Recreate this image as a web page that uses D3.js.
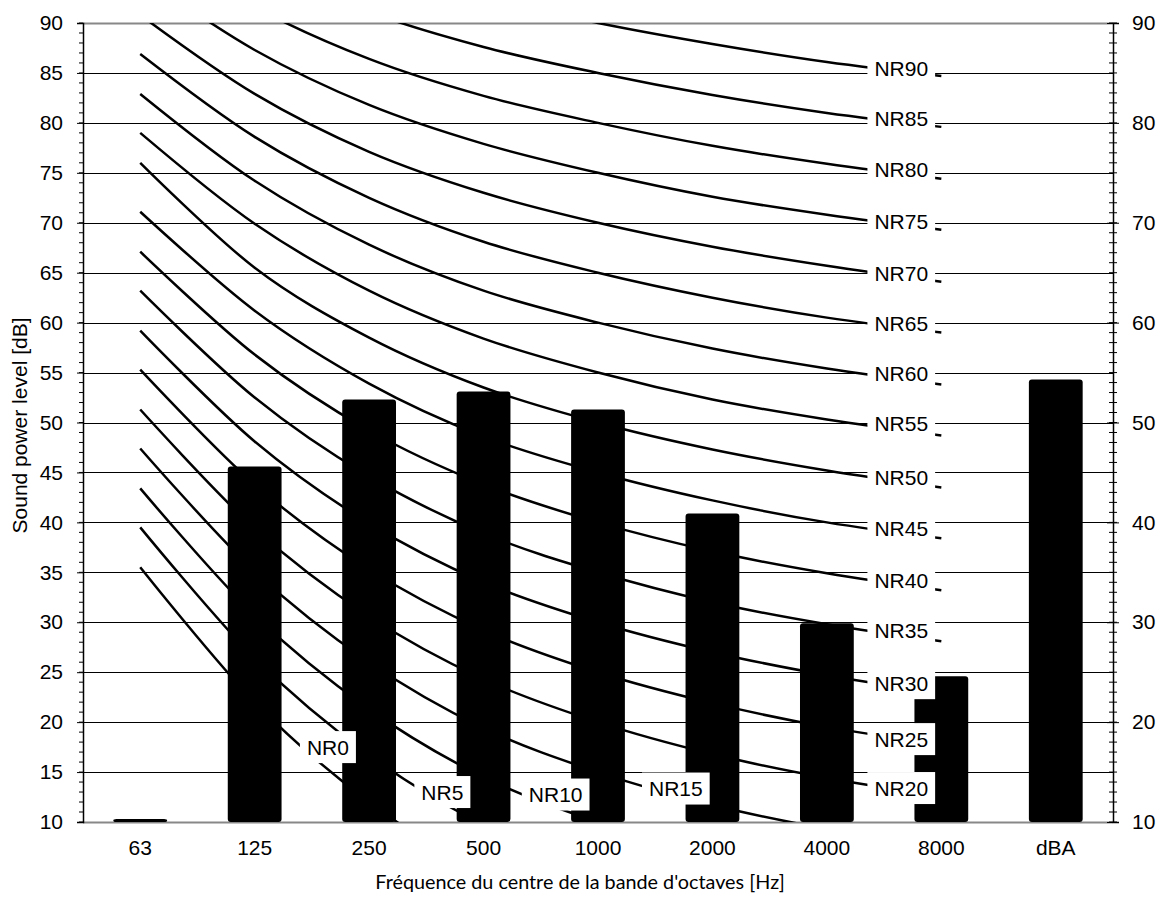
<!DOCTYPE html>
<html>
<head>
<meta charset="utf-8">
<script src="https://cdn.jsdelivr.net/npm/d3@7"></script>
<style>
  body { margin: 0; background: #fff; }
  svg { display: block; }
  text { font-family: "Liberation Sans", Arial, sans-serif; fill: #000; }
</style>
</head>
<body>
<svg id="chart" width="1161" height="918"></svg>
<script>
// octave bands on the x axis (last one is the overall dBA bar)
var bands = ["63", "125", "250", "500", "1000", "2000", "4000", "8000", "dBA"];
var curveBands = ["63", "125", "250", "500", "1000", "2000", "4000", "8000"];

// measured sound power level per band
var levels = [10.3, 45.6, 52.3, 53.1, 51.3, 40.9, 29.9, 24.6, 54.3];

// NR curves, values at 63 ... 8000 Hz
var nr0  = [35.5, 22.0, 12.0,  4.8,  0.0, -3.5, -6.1, -8.0];
var nr5  = [39.5, 26.4, 16.7,  9.7,  5.0,  1.6, -1.0, -2.9];
var nr10 = [43.4, 30.7, 21.3, 14.5, 10.0,  6.7,  4.2,  2.3];
var nr15 = [47.4, 35.1, 26.0, 19.4, 15.0, 11.7,  9.3,  7.5];
var nr20 = [51.3, 39.4, 30.6, 24.3, 20.0, 16.8, 14.4, 12.6];
var nr25 = [55.3, 43.8, 35.3, 29.2, 25.0, 21.9, 19.5, 17.8];
var nr30 = [59.2, 48.1, 39.9, 34.0, 30.0, 27.0, 24.7, 22.9];
var nr35 = [63.2, 52.5, 44.6, 38.9, 35.0, 32.0, 29.8, 28.1];
var nr40 = [67.1, 56.8, 49.2, 43.8, 40.0, 37.1, 34.9, 33.2];
var nr45 = [71.1, 61.2, 53.9, 48.6, 45.0, 42.2, 40.0, 38.4];
var nr50 = [76.0, 65.5, 58.5, 53.5, 50.0, 47.3, 45.2, 43.5];
var nr55 = [79.0, 69.9, 63.2, 58.4, 55.0, 52.3, 50.3, 48.7];
var nr60 = [82.9, 74.2, 67.8, 63.2, 60.0, 57.4, 55.4, 53.8];
var nr65 = [86.9, 78.6, 72.5, 68.1, 65.0, 62.5, 60.5, 59.0];
var nr70 = [90.8, 82.9, 77.1, 73.0, 70.0, 67.6, 65.7, 64.1];
var nr75 = [94.8, 87.3, 81.8, 77.9, 75.0, 72.6, 70.8, 69.3];
var nr80 = [98.7, 91.6, 86.4, 82.7, 80.0, 77.7, 75.9, 74.4];
var nr85 = [102.7, 96.0, 91.1, 87.6, 85.0, 82.8, 81.0, 79.6];
var nr90 = [106.6, 100.3, 95.7, 92.5, 90.0, 87.9, 86.1, 84.7];

var nrNames  = ["NR0","NR5","NR10","NR15","NR20","NR25","NR30","NR35","NR40","NR45",
                "NR50","NR55","NR60","NR65","NR70","NR75","NR80","NR85","NR90"];
var nrCurves = [nr0, nr5, nr10, nr15, nr20, nr25, nr30, nr35, nr40, nr45,
                nr50, nr55, nr60, nr65, nr70, nr75, nr80, nr85, nr90];

// where each curve label sits: band index (fractional) and dB value
var labelBand = [1.64, 2.64, 3.63, 4.68, 6.65, 6.65, 6.65, 6.65, 6.65, 6.65,
                 6.65, 6.65, 6.65, 6.65, 6.65, 6.65, 6.65, 6.65, 6.65];
var labelDb   = [17.5, 13.0, 12.75, 13.35, 13.4, 18.3, 23.9, 29.2, 34.2, 39.4,
                 44.5, 49.9, 54.9, 59.9, 64.9, 70.1, 75.3, 80.4, 85.4];

var leftTicks  = d3.range(10, 91, 5);
var rightTicks = d3.range(10, 91, 10);
var minorTicks = d3.range(10, 91, 1);

var svg = d3.select("#chart");
var x0 = 83, x1 = 1113, yTop = 23, yBot = 822;
var fs = "21px";

var x = d3.scaleBand().domain(bands).range([x0, x1])
  .paddingInner(0.53).paddingOuter(0.265);
var y = d3.scaleLinear().domain([10, 90]).range([yBot, yTop]);
function xc(b){ return x(b) + x.bandwidth()/2; }

// gridlines
svg.append("g").selectAll("line")
  .data(leftTicks)
  .enter().append("line")
    .attr("x1", x0).attr("x2", x1)
    .attr("y1", function(d){ return Math.round(y(d)) + 0.5; })
    .attr("y2", function(d){ return Math.round(y(d)) + 0.5; })
    .attr("stroke", function(d){ return (d == 10 || d == 90) ? "#888" : "#000"; })
    .attr("stroke-width", function(d){ return (d == 10 || d == 90) ? 2 : 1; });

// NR curves, clipped to the plot
svg.append("clipPath").attr("id", "plotClip")
  .append("rect").attr("x", x0).attr("y", yTop).attr("width", x1 - x0).attr("height", yBot - yTop);

var line = d3.line()
  .x(function(d, i){ return xc(curveBands[i]); })
  .y(function(d){ return y(d); })
  .curve(d3.curveCardinal.tension(0));

svg.append("g").attr("clip-path", "url(#plotClip)")
  .selectAll("path")
  .data(nrCurves)
  .enter().append("path")
    .attr("d", line)
    .attr("fill", "none")
    .attr("stroke", "#000")
    .attr("stroke-width", 2.5);

// bars
svg.append("g").selectAll("rect")
  .data(levels)
  .enter().append("rect")
    .attr("x", function(d, i){ return x(bands[i]); })
    .attr("y", function(d){ return y(d); })
    .attr("width", x.bandwidth())
    .attr("height", function(d){ return y(10) - y(d); })
    .attr("rx", 3)
    .attr("fill", "#000");

// left axis, majors every 5 with labels, minors every 1
var gl = svg.append("g").attr("transform", "translate(" + x0 + ",0)");
gl.call(d3.axisLeft(y).tickValues(leftTicks).tickSize(6).tickPadding(14));
gl.append("g").selectAll("line").data(minorTicks).enter().append("line")
  .attr("x1", -4).attr("x2", 0)
  .attr("y1", function(d){ return y(d); }).attr("y2", function(d){ return y(d); })
  .attr("stroke", "#000");

// right axis, majors every 10, crossing minors every 1
var gr = svg.append("g").attr("transform", "translate(" + x1 + ",0)");
gr.call(d3.axisRight(y).tickValues(rightTicks).tickSize(6).tickPadding(13));
gr.selectAll(".tick line").attr("x1", -6);
gr.append("g").selectAll("line").data(minorTicks).enter().append("line")
  .attr("x1", -4).attr("x2", 4)
  .attr("y1", function(d){ return y(d); }).attr("y2", function(d){ return y(d); })
  .attr("stroke", "#000");

svg.selectAll(".domain").attr("stroke", "#000").attr("stroke-width", 1.5);
svg.selectAll(".tick line").attr("stroke", "#000");
svg.selectAll(".tick text").style("font-size", fs).style("font-family", "Liberation Sans, Arial, sans-serif");

// bottom category labels
svg.append("g").selectAll("text")
  .data(bands)
  .enter().append("text")
    .attr("x", function(d){ return xc(d); })
    .attr("y", 855)
    .attr("text-anchor", "middle")
    .style("font-size", fs)
    .text(function(d){ return d; });

// NR labels with white boxes
var step = x.step();
var labels = svg.append("g").selectAll("g")
  .data(nrNames)
  .enter().append("g")
    .attr("transform", function(d, i){
      var k = Math.floor(labelBand[i]);
      var px = xc(bands[k]) + (labelBand[i] - k) * step;
      return "translate(" + px + "," + y(labelDb[i]) + ")";
    });
labels.append("rect").attr("fill", "#fff");
labels.append("text")
  .attr("text-anchor", "middle")
  .attr("y", 7.5)
  .style("font-size", fs)
  .text(function(d){ return d; });
labels.each(function(){
  var g = d3.select(this);
  var w = g.select("text").node().getComputedTextLength() + 14;
  g.select("rect").attr("x", -w/2).attr("y", -16).attr("width", w).attr("height", 32);
});

// axis titles
svg.append("text")
  .attr("transform", "translate(27," + ((yTop + yBot)/2 + 3) + ") rotate(-90)")
  .attr("text-anchor", "middle")
  .style("font-size", fs)
  .text("Sound power level [dB]");

svg.append("text")
  .attr("x", 580)
  .attr("y", 889)
  .attr("text-anchor", "middle")
  .style("font-family", "Lato, 'Open Sans', sans-serif")
  .style("font-size", "19.8px")
  .text("Fréquence du centre de la bande d'octaves [Hz]");
</script>
</body>
</html>
